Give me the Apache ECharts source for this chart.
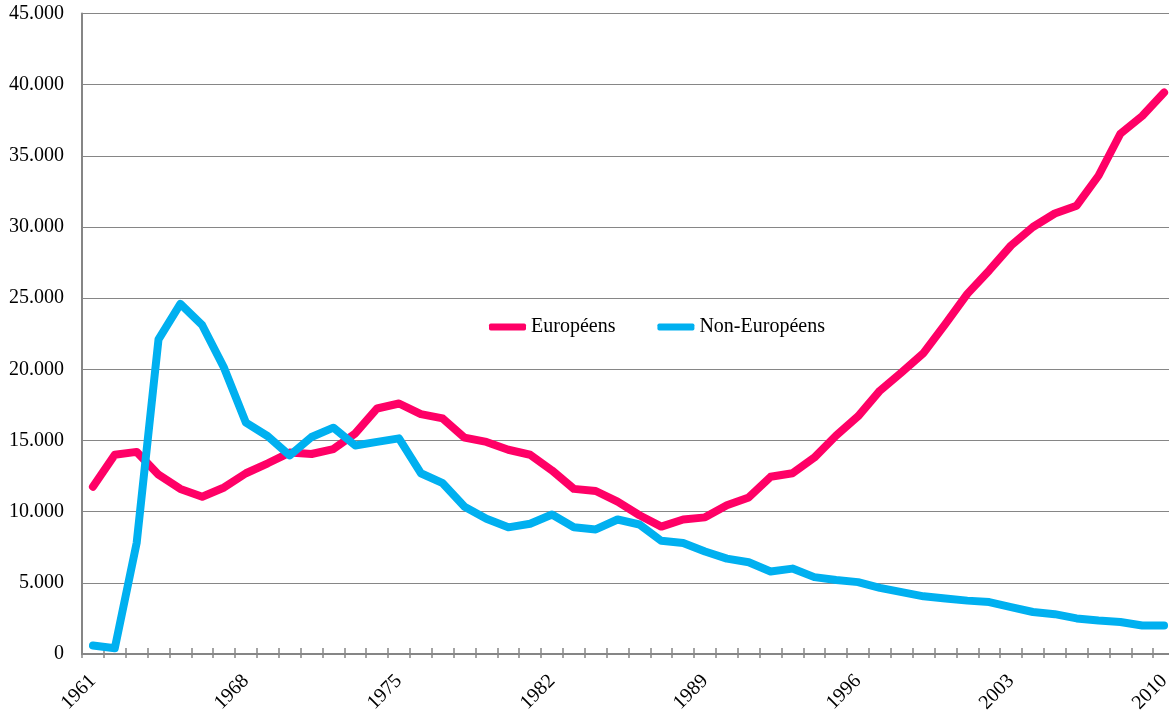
<!DOCTYPE html>
<html>
<head>
<meta charset="utf-8">
<style>
  html, body { margin: 0; padding: 0; background: #fff; }
  #chart { width: 1169px; height: 712px; }
</style>
<script src="https://cdn.jsdelivr.net/npm/echarts@6/dist/echarts.min.js"></script>
</head>
<body>
<div id="chart"></div>
<script>
const years = [
  '1961', '1962', '1963', '1964', '1965', '1966', '1967', '1968', '1969', '1970',
  '1971', '1972', '1973', '1974', '1975', '1976', '1977', '1978', '1979', '1980',
  '1981', '1982', '1983', '1984', '1985', '1986', '1987', '1988', '1989', '1990',
  '1991', '1992', '1993', '1994', '1995', '1996', '1997', '1998', '1999', '2000',
  '2001', '2002', '2003', '2004', '2005', '2006', '2007', '2008', '2009', '2010'
]

const europeens = [
  11750, 14000, 14200, 12600, 11600, 11050, 11700, 12700, 13400, 14150,
  14050, 14400, 15500, 17250, 17600, 16850, 16550, 15200, 14900, 14350,
  14000, 12900, 11600, 11450, 10700, 9750, 8950, 9450, 9600, 10450,
  11000, 12450, 12700, 13800, 15350, 16700, 18500, 19800, 21150, 23200,
  25300, 26950, 28700, 30000, 30950, 31500, 33600, 36550, 37800, 39450
]

const nonEuropeens = [
  600, 400, 7800, 22100, 24600, 23100, 20100, 16250, 15300, 13950,
  15250, 15900, 14650, 14900, 15150, 12700, 12000, 10350, 9500, 8900,
  9150, 9800, 8900, 8750, 9450, 9100, 7950, 7800, 7200, 6700,
  6450, 5800, 6000, 5400, 5200, 5050, 4650, 4350, 4050, 3900,
  3750, 3650, 3300, 2950, 2800, 2500, 2350, 2250, 2000, 2000
]

const yTickLabels = ['0', '5.000', '10.000', '15.000', '20.000', '25.000', '30.000', '35.000', '40.000', '45.000']

const font = 'Liberation Serif'
const axisGray = '#868686'

const chart = echarts.init(document.getElementById('chart'))

chart.setOption({
  animation: false,
  textStyle: { fontFamily: font },
  grid: {
    left: 82,
    right: -6,
    top: 13.5,
    bottom: 58,
    containLabel: false,
    outerBoundsMode: 'none'
  },
  legend: {
    left: 484,
    top: 312,
    itemWidth: 37,
    itemHeight: 7,
    itemGap: 42,
    icon: 'roundRect',
    textStyle: { fontFamily: font, fontSize: 20, color: '#000' },
    data: ['Européens', 'Non-Européens']
  },
  xAxis: [
    {
      type: 'category',
      position: 'bottom',
      data: years,
      boundaryGap: true,
      axisLine: { lineStyle: { color: axisGray, width: 2 } },
      axisTick: { show: true, inside: false, length: 4, interval: 0, lineStyle: { color: axisGray, width: 1.5 } },
      axisLabel: {
        interval: 6,
        rotate: 45,
        margin: 24,
        fontFamily: font,
        fontSize: 20,
        color: '#000'
      },
      splitLine: { show: false }
    },
    {
      type: 'category',
      position: 'bottom',
      data: years,
      boundaryGap: true,
      axisLine: { show: false },
      axisTick: { show: true, inside: true, length: 6, interval: 0, lineStyle: { color: axisGray, width: 1.5 } },
      axisLabel: { show: false },
      splitLine: { show: false }
    }
  ],
  yAxis: {
    type: 'value',
    min: 0,
    max: 45000,
    interval: 5000,
    axisLine: { show: true, lineStyle: { color: axisGray, width: 2 } },
    axisTick: { show: false },
    axisLabel: {
      margin: 18,
      fontFamily: font,
      fontSize: 20,
      color: '#000',
      formatter: (value) => yTickLabels[Math.round(value / 5000)]
    },
    splitLine: { lineStyle: { color: axisGray, width: 1.2 } }
  },
  series: [
    {
      name: 'Européens',
      type: 'line',
      data: europeens,
      symbol: 'none',
      color: '#FF0066',
      lineStyle: { width: 8, color: '#FF0066', cap: 'round', join: 'round' }
    },
    {
      name: 'Non-Européens',
      type: 'line',
      data: nonEuropeens,
      symbol: 'none',
      color: '#00B0F0',
      lineStyle: { width: 8, color: '#00B0F0', cap: 'round', join: 'round' }
    }
  ]
})

window.addEventListener('resize', () => {
  chart?.resize()
})
</script>
</body>
</html>
